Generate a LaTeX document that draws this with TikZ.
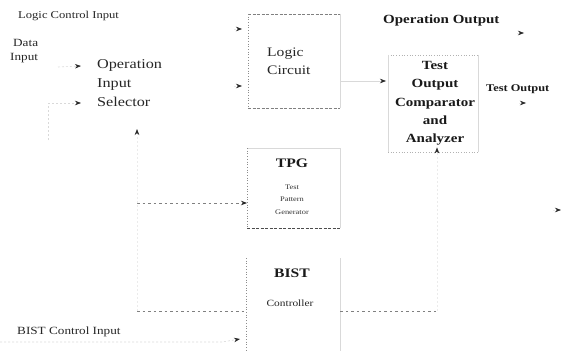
\documentclass[tikz,border=0pt]{standalone}
\usepackage{fontspec}
\setmainfont{Liberation Serif}[FakeStretch=1.2]
\usetikzlibrary{arrows.meta}

\tikzset{
  lbl/.style={inner sep=0pt, text=black!85, font=\fontsize{13}{18.3}\selectfont},
  heavy/.style={inner sep=0pt, text=black!90, font=\bfseries\fontsize{12.5}{18.3}\selectfont},
  small/.style={inner sep=0pt, text=black!80, font=\fontsize{7}{12.5}\selectfont},
  blk/.style={draw=none, inner sep=0pt, anchor=north west},
  edgedark/.style={draw=black!50, dash pattern=on 3pt off 1.5pt, line width=0.8pt},
  edgedot/.style={draw=black!45, dotted, line width=0.7pt},
  edgefaint/.style={draw=black!15, line width=0.6pt},
  wire/.style={draw=black!50, dash pattern=on 2.5pt off 3pt, line width=0.8pt},
  faintwire/.style={draw=black!15, dash pattern=on 2pt off 2pt, line width=0.6pt},
  ghostwire/.style={draw=black!8, dash pattern=on 2pt off 2pt, line width=0.6pt},
  tip/.style={-{Stealth[length=6pt,width=4.5pt,color=black!85]}},
}

\begin{document}
\begin{tikzpicture}[x=1pt,y=-1pt]
\useasboundingbox (0,0) rectangle (561,350);

% ---- blocks ----
\node[blk, minimum width=92pt, minimum height=94pt] (lc) at (248,14) {};
\node[blk, minimum width=90pt, minimum height=97pt] (cmp) at (388,55) {};
\node[blk, minimum width=93pt, minimum height=80pt] (tpg) at (247,148) {};
\node[blk, minimum width=94pt, minimum height=100pt] (bist) at (246,258) {};

% block outlines
\draw[edgedark] (lc.north west) -- (lc.north east);
\draw[edgedark] (lc.south west) -- (lc.south east);
\draw[edgedot] (lc.north west) -- (lc.south west);
\draw[edgefaint] (lc.north east) -- (lc.south east);

\draw[edgedot, draw=black!30] (cmp.north west) -- (cmp.north east);
\draw[edgedot, draw=black!30] (cmp.south west) -- (cmp.south east);
\draw[edgefaint] (cmp.north east) -- (cmp.south east);
\draw[edgefaint] (cmp.north west) -- (cmp.south west);

\draw[edgefaint] (tpg.north west) -- (tpg.north east);
\draw[edgedark, draw=black!70] (tpg.south west) -- (tpg.south east);
\draw[edgedot] (tpg.north west) -- (tpg.south west);
\draw[edgefaint] (tpg.north east) -- (tpg.south east);

\draw[edgedot] (bist.north west) -- (bist.south west);
\draw[edgefaint] (bist.north east) -- (bist.south east);

% ---- texts ----
\node[lbl, anchor=west, font=\fontsize{10.5}{13}\selectfont] (lci) at (18,16) {Logic Control Input};
\node[lbl, anchor=west, align=left, font=\fontsize{11}{14}\selectfont] (din) at (10,51) {\hspace*{3pt}Data\\Input};
\node[lbl, anchor=west, align=left, font=\fontsize{13.5}{19}\selectfont] (ois) at (97,83) {Operation\\Input\\Selector};
\node[lbl, anchor=west, align=left] (lctext) at (267,61.5) {Logic\\Circuit};
\node[heavy, align=center] (cmptext) at (435,103.5) {Test\\Output\\Comparator\\and\\Analyzer};
\node[heavy, anchor=west] (opout) at (383,20) {Operation Output};
\node[heavy, anchor=west, font=\bfseries\fontsize{10.3}{13}\selectfont] (tout) at (486,89) {Test Output};
\node[heavy, font=\bfseries\fontsize{13}{15}\selectfont] (tpgt) at (292,163) {TPG};
\node[small, align=center] (tpgs) at (292,199.5) {Test\\Pattern\\Generator};
\node[heavy, font=\bfseries\fontsize{13}{15}\selectfont] (bistt) at (292,273) {BIST};
\node[lbl, font=\fontsize{9.5}{12}\selectfont] (bists) at (290,303) {Controller};
\node[lbl, anchor=west, font=\fontsize{11}{13}\selectfont] (bci) at (17,332) {BIST Control Input};

% ---- free ends ----
\coordinate (dinR) at (58,67);
\coordinate (selL) at (48,103);
\coordinate (selB) at (48,140);
\coordinate (selIn) at (137,129);
\coordinate (tpgJ) at (137,203);
\coordinate (bistJ) at (137,311);
\coordinate (cmpJ) at (437,311);
\coordinate (lcIn1) at (234,29);
\coordinate (lcIn2) at (234,86);
\coordinate (opTip) at (524,33);
\coordinate (opTail) at (517,33);
\coordinate (toTip) at (526,103);
\coordinate (toTail) at (519,103);
\coordinate (rTip) at (561,210);
\coordinate (rTail) at (553,210);
\coordinate (bciL) at (0,342);
\coordinate (bciR) at (222,342);

% ---- connectors ----
% data input into the selector
\draw[faintwire, tip] (dinR) -- ([xshift=-16pt]ois.west |- 0,66);
\draw[faintwire] (selB) -- (selL);
\draw[faintwire, tip] (selL) -- ([xshift=-16pt]ois.west |- 0,103);
% test patterns up to the selector
\draw[wire, tip] (tpgJ) -- (tpg.west |- tpgJ);
\draw[ghostwire, tip] (tpgJ) -- (selIn);
% controller lines
\draw[wire] (bistJ) -- (bist.west |- bistJ);
\draw[wire] (bist.east |- cmpJ) -- (cmpJ);
\draw[ghostwire] (bistJ) -- (tpgJ);
\draw[ghostwire, tip] (cmpJ) -- ([yshift=5pt]cmp.south -| cmpJ);
% logic circuit inputs
\draw[ghostwire, tip] (lcIn1) -- ([xshift=-6pt]lc.west |- lcIn1);
\draw[ghostwire, tip] (lcIn2) -- ([xshift=-6pt]lc.west |- lcIn2);
% logic circuit to comparator
\draw[edgefaint, tip] (lc.east |- 0,81) -- ([xshift=-2pt]cmp.west |- 0,81);
% outputs
\draw[ghostwire, tip] (opTail) -- (opTip);
\draw[ghostwire, tip] (toTail) -- (toTip);
\draw[ghostwire, tip] (rTail) -- (rTip);
% BIST control input
\draw[faintwire, tip] (bciL) -- (bciR) -- ([xshift=-6pt]bist.west |- 0,339);
\end{tikzpicture}
\end{document}
